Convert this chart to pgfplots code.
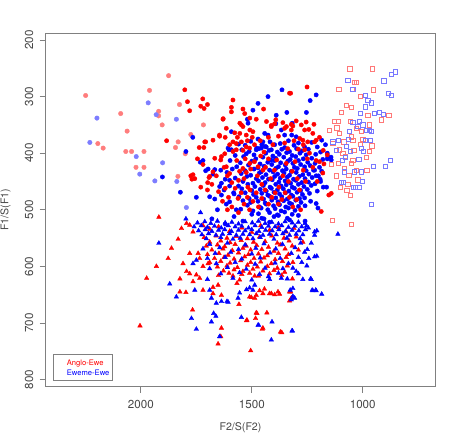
\documentclass[border=0pt]{standalone}
\usepackage{fontspec}
\setmainfont{TeX Gyre Heros}
\usepackage{pgfplots}
\pgfplotsset{compat=1.18}
\definecolor{framegray}{RGB}{128,128,128}
\definecolor{txtgray}{RGB}{70,70,70}
\definecolor{rred}{RGB}{255,0,0}
\definecolor{rblue}{RGB}{0,0,255}
\definecolor{lred}{RGB}{255,125,125}
\definecolor{lblue}{RGB}{125,125,255}
\definecolor{sqred}{RGB}{255,120,120}
\definecolor{sqblue}{RGB}{120,120,255}
\begin{document}
\begin{tikzpicture}[x=1pt,y=1pt]
\path[use as bounding box] (0,0) rectangle (465,439);
\begin{axis}[
  at={(45.7pt,52.3pt)}, anchor=south west,
  width=389.6pt, height=353.7pt, scale only axis,
  x dir=reverse, y dir=reverse,
  xmin=673, xmax=2429, ymin=187.6, ymax=812.7,
  axis line style={framegray, line width=1pt},
  xtick={1000,1500,2000}, ytick={200,300,400,500,600,700,800},
  tick align=outside, xtick pos=left, ytick pos=left,
  major tick length=6pt,
  tick style={framegray, line width=0.8pt},
  ticklabel style={font=\fontsize{11.6}{13}\selectfont, text=txtgray, inner sep=0pt},
  /pgf/number format/assume math mode=true,
  /pgf/number format/1000 sep={},
  xticklabel shift=7.3pt,
  yticklabel shift=6.2pt,
  yticklabel style={rotate=90, anchor=south},
  bc/.style={only marks, color=rblue, mark=*, mark size=2.15pt},
  rc/.style={only marks, color=rred, mark=*, mark size=2.15pt},
  lbc/.style={only marks, color=lblue, mark=*, mark size=2.25pt},
  lrc/.style={only marks, color=lred, mark=*, mark size=2.25pt},
  bt/.style={only marks, color=rblue, mark=triangle*, mark size=2.6pt},
  rt/.style={only marks, color=rred, mark=triangle*, mark size=2.6pt},
  bs/.style={only marks, color=sqblue, mark=square, mark size=2.1pt, mark options={line width=0.6pt}},
  rs/.style={only marks, color=sqred, mark=square, mark size=2.1pt, mark options={line width=0.6pt}},
]
% light circles (upper left)
\addplot[lrc] coordinates {(2249,298)(1875,263)(1961,289)(2091,330)(1920,326)(1920,334)(1904,350)(1826,314)(2062,361)(2194,383)(2170,391)(2068,397)(2042,397)(1986,397)(2022,425)(1986,425)(1844,390)(1832,380)(1775,367)(1800,401)(1833,441)(1718,350)};
\addplot[lbc] coordinates {(2198,338)(2230,381)(1967,311)(1931,332)(1840,340)(2021,406)(2005,437)(1902,417)(1937,449)(1838,450)(1795,496)};
% red triangles
\addplot[rt] coordinates {(1919,513)(1930,600)(1877,586)(1862,568)(1832,552)(1817,533)(1794,524)(1780,527)(1765,539)(1810,595)(1794,609)(1780,613)(1750,615)(1824,622)(1765,627)(1735,621)(1720,600)(1697,595)(1742,577)(1735,586)(1780,577)(1797,646)(1720,642)(1637,651)(1675,637)(1652,633)(1767,677)(1637,709)(1640,724)(1652,737)(1558,667)(1480,682)(1483,692)(1522,695)(1505,749)(1432,682)(1450,709)(1371,716)(1510,654)(1487,656)(1480,651)(1420,648)(1397,650)(1382,645)(1330,645)(1443,640)(1465,643)(1555,624)(1567,630)(1603,612)(1585,617)(1510,612)(1487,617)(2004,705)(1974,621)(1824,645)(1317,622)(1325,645)(1322,656)(1330,661)(1365,717)(1477,683)(1453,711)(1524,696)(1375,649)(1412,648)(1502,655)(1450,648)(1675,648)
(1715,549)(1660,546)(1612,550)(1570,547)(1520,551)(1465,548)(1410,546)(1355,550)(1300,548)
(1690,557)(1640,555)(1598,558)(1548,554)(1492,557)(1440,556)(1385,559)(1332,555)(1270,557)
(1705,564)(1655,562)(1622,565)(1575,561)(1525,564)(1478,563)(1425,566)(1372,562)(1318,564)
(1680,571)(1630,569)(1588,572)(1540,568)(1505,571)(1455,570)(1400,573)(1350,569)(1290,571)
(1700,579)(1648,577)(1607,580)(1560,576)(1515,579)(1470,578)(1430,581)(1380,577)(1335,579)
(1668,586)(1625,584)(1580,587)(1532,583)(1490,586)(1445,585)(1395,588)(1345,584)
(1690,593)(1640,591)(1598,594)(1550,590)(1505,593)(1460,592)(1412,595)(1362,591)(1315,593)
(1655,601)(1612,599)(1565,602)(1520,598)(1475,601)(1430,600)(1385,603)(1340,599)
(1628,608)(1580,606)(1540,609)(1495,605)(1450,608)(1400,607)(1352,610)
(1650,616)(1545,614)(1470,617)(1420,613)(1365,616)
(1720,528)(1690,534)(1650,530)(1600,538)(1545,532)(1500,540)(1460,528)(1420,536)(1380,531)(1345,539)(1310,533)};
% blue triangles
\addplot[bt] coordinates {(1731,505)(1797,516)(1919,559)(1870,631)(1840,654)(1757,642)(1765,595)(1750,589)(1690,642)(1682,656)(1660,665)(1637,662)(1612,662)(1772,692)(1750,711)(1672,683)(1682,698)(1547,690)(1472,704)(1412,730)(1317,714)(1555,647)(1562,656)(1510,638)(1487,633)(1232,623)(1225,643)(1210,643)(1307,656)(1322,659)(1327,642)(1315,639)(1232,559)(1217,545)(1254,529)(1315,603)(1300,609)(1112,543)(1207,537)(1217,539)(1207,582)(1217,583)(1252,599)(1243,586)(1235,622)(1228,642)(1212,642)(1185,649)(1315,653)(1319,714)(1409,698)(1469,704)(1524,641)(1495,642)(1367,621)(1420,623)(1425,618)(1662,688)(1645,724)(1607,663)
(1745,523)(1712,521)(1685,524)(1655,520)(1620,523)(1590,522)(1560,525)(1530,521)(1498,523)(1470,520)(1440,524)(1410,522)(1380,525)(1350,521)(1318,523)(1290,522)(1260,524)
(1760,530)(1728,528)(1700,531)(1668,529)(1638,532)(1606,528)(1575,530)(1545,529)(1515,532)(1485,528)(1455,531)(1425,529)(1395,530)(1365,528)(1335,531)(1305,529)(1275,530)(1245,532)
(1740,537)(1710,535)(1680,538)(1650,536)(1622,535)(1592,538)(1560,536)(1530,537)(1500,535)(1468,538)(1438,536)(1408,537)(1378,535)(1348,538)(1318,536)(1288,537)(1258,535)
(1725,544)(1695,542)(1662,545)(1632,543)(1600,542)(1570,545)(1540,543)(1510,544)(1480,542)(1450,545)(1420,543)(1390,544)(1360,542)(1330,545)(1300,543)(1270,544)
(1705,551)(1640,549)(1585,552)(1552,550)(1495,551)(1462,549)(1400,552)(1342,550)(1282,551)
(1690,561)(1610,559)(1530,562)(1445,560)(1362,561)(1280,559)
(1720,569)(1645,567)(1560,570)(1482,568)(1392,569)(1305,567)(1250,570)
(1665,577)(1595,575)(1500,578)(1418,576)(1322,577)(1262,575)
(1700,586)(1620,584)(1545,587)(1462,585)(1372,586)(1290,584)
(1660,595)(1575,593)(1485,596)(1395,594)(1335,595)(1275,593)
(1690,604)(1610,602)(1525,605)(1440,603)(1360,604)
(1640,613)(1555,611)(1465,614)(1380,612)(1290,613)
(1700,623)(1585,621)(1500,624)(1340,622)(1270,623)};
% blue circles
\addplot[bc] coordinates {(1364,288)(1427,300)(1472,312)(1495,324)(1210,297)(1237,307)(1342,328)(1254,328)(1390,333)(1520,340)(1392,348)(1367,359)(1352,368)(1320,368)(1300,371)(1442,365)(1427,368)(1472,375)(1450,380)(1592,362)(1517,347)(1607,391)(1592,394)(1720,413)(1697,428)(1667,429)(1675,437)(1480,394)(1457,391)(1435,389)(1412,394)(1766,372)(1797,397)(1732,416)(1708,431)(1822,469)(1750,478)(1645,459)(1637,453)(1690,477)(1667,481)(1637,474)(1603,394)(1318,347)(1903,442)(1160,410)(1142,412)(1157,406)(1217,430)(1200,440)(1190,450)(1163,460)(1210,489)(1202,497)
(1640,430)(1620,446)(1600,458)(1582,470)(1615,490)(1570,500)(1655,500)
(1580,512)(1540,520)(1500,508)(1455,515)(1420,522)(1380,510)(1330,518)(1290,510)(1260,520)(1620,525)(1680,516)
(1290,382)(1335,378)(1372,383)(1418,380)(1455,385)(1505,379)(1560,384)(1230,381)(1185,377)
(1262,389)(1310,386)(1352,390)(1397,385)(1440,388)(1478,391)(1530,386)(1205,389)(1168,385)
(1275,396)(1298,392)(1330,397)(1365,393)(1385,398)(1422,395)(1468,392)(1512,397)(1545,394)(1245,393)(1190,398)
(1255,403)(1283,400)(1318,404)(1343,399)(1376,402)(1405,405)(1437,400)(1490,403)(1525,401)(1575,404)(1212,402)(1160,400)
(1268,410)(1302,406)(1327,411)(1356,407)(1392,409)(1414,412)(1450,407)(1482,410)(1537,406)(1230,409)(1180,411)(1143,407)
(1248,416)(1290,413)(1315,418)(1338,414)(1370,417)(1398,413)(1428,416)(1463,419)(1500,414)(1552,417)(1598,413)(1215,418)
(1262,424)(1280,420)(1308,425)(1349,421)(1380,424)(1410,420)(1445,423)(1472,426)(1515,421)(1568,424)(1237,422)(1195,425)
(1255,431)(1295,427)(1322,432)(1345,428)(1362,431)(1392,427)(1420,430)(1458,433)(1490,428)(1530,431)(1588,428)(1222,430)(1185,432)
(1270,438)(1300,434)(1330,439)(1355,435)(1384,437)(1404,433)(1436,438)(1466,435)(1505,439)(1548,436)(1612,434)(1243,437)(1210,440)
(1260,445)(1286,441)(1312,446)(1340,442)(1372,444)(1397,441)(1425,446)(1452,443)(1480,445)(1522,441)(1575,444)(1228,443)(1192,446)
(1275,452)(1302,448)(1325,453)(1350,449)(1378,451)(1408,447)(1440,452)(1470,449)(1495,453)(1540,450)(1600,448)(1245,451)(1215,454)
(1265,459)(1290,455)(1318,460)(1345,456)(1368,458)(1392,455)(1418,460)(1448,457)(1486,459)(1518,455)(1560,458)(1232,457)(1178,460)
(1280,466)(1308,462)(1333,467)(1358,463)(1385,465)(1412,462)(1435,467)(1462,464)(1500,466)(1545,463)(1625,465)(1250,464)(1205,467)
(1272,473)(1296,469)(1322,474)(1348,470)(1375,472)(1400,469)(1428,474)(1455,471)(1492,473)(1530,470)(1580,472)(1240,471)
(1285,480)(1315,476)(1340,481)(1365,477)(1392,479)(1420,476)(1447,481)(1480,478)(1512,480)(1558,477)(1262,479)
(1278,487)(1302,483)(1330,488)(1356,484)(1382,486)(1410,483)(1440,488)(1472,485)(1505,487)(1540,484)(1600,486)(1235,485)
(1290,494)(1320,490)(1347,495)(1375,491)(1402,493)(1435,490)(1465,495)(1520,492)(1260,493)
(1305,501)(1335,497)(1368,502)(1395,498)(1428,500)(1458,497)(1495,502)(1550,499)
(1318,508)(1352,504)(1385,509)(1420,505)(1470,507)
(1340,515)(1400,512)(1445,516)};
% red circles
\addplot[rc] coordinates {(1802,288)(1790,309)(1780,325)(1721,304)(1730,317)(1715,321)(1700,314)(1884,378)(1737,390)(1716,390)(1708,380)(1646,368)(1629,339)(1775,440)(1770,446)(1699,452)(1251,283)(1330,294)(1585,306)(1447,322)(1592,319)(1592,327)(1540,322)(1532,330)(1630,340)(1554,347)(1547,350)(1540,353)(1509,338)(1480,340)(1434,344)(1412,351)(1360,346)(1344,353)(1322,349)(1300,343)(1277,350)(1255,345)(1352,356)(1322,359)(1615,356)(1577,364)(1554,365)(1525,368)(1509,359)(1495,362)(1645,370)(1712,380)(1675,377)(1585,380)(1570,383)(1547,380)(1525,389)(1510,391)(1667,409)(1622,401)(1585,397)(1570,394)(1284,374)(1270,377)(1248,380)(1210,377)(1262,394)(1240,400)(1615,424)(1600,436)(1675,433)(1690,441)(1540,427)(1525,434)(1509,418)(1472,424)(1450,430)(1325,294)(1217,380)(1160,403)(1210,413)(1175,419)(1142,471)(1153,474)(1187,503)
(1397,348)(1392,341)(1412,353)(1315,352)(1262,359)(1243,358)(1220,349)(1765,438)(1757,445)(1693,443)(1637,406)(1720,420)(1745,410)(1680,455)(1700,465)(1660,440)(1730,460)
(1620,372)(1600,385)(1565,372)(1540,395)(1520,378)(1498,372)(1488,385)(1462,378)(1445,398)(1425,372)(1405,385)(1380,370)(1352,382)(1338,392)(1310,378)(1290,393)(1268,385)(1225,365)(1195,372)(1178,395)
(1640,412)(1625,425)(1610,440)(1590,452)(1568,413)(1555,432)(1560,448)(1530,410)(1535,445)(1518,460)(1505,428)(1488,415)(1475,440)(1460,405)(1455,455)(1438,425)(1425,410)(1415,445)(1398,430)(1388,412)(1378,460)(1360,440)(1345,418)(1335,450)(1318,432)(1305,415)(1295,445)(1285,465)(1268,430)(1258,450)(1250,410)(1225,425)(1205,450)(1195,415)(1180,435)
(1650,468)(1632,485)(1620,462)(1605,478)(1590,495)(1575,462)(1562,480)(1548,470)(1535,490)(1520,478)(1508,465)(1495,485)(1480,470)(1470,495)(1455,480)(1440,465)(1425,490)(1410,478)(1395,470)(1380,490)(1365,482)(1350,470)(1330,478)(1315,495)(1298,482)(1280,500)(1560,505)(1610,500)(1510,500)};
% open squares
\addplot[rs] coordinates {(1058,251)(957,251)(1037,275)(1029,275)(1108,287)(1047,287)(952,288)(1010,300)(1074,315)(1052,319)(1097,328)(1127,343)(1112,343)(1055,344)(977,333)(883,333)(917,341)(1029,356)(1007,362)(970,350)(1105,365)(1052,371)(1045,377)(959,387)(970,397)(1135,383)(1105,394)(1078,405)(985,407)(1045,412)(982,430)(1029,430)(1063,439)(1022,447)(1072,465)(1055,475)(1137,518)(1051,525)(1117,355)(1000,375)(1090,400)(1052,418)(1082,427)(1112,418)(1067,455)(1150,360)(1140,420)(1120,440)(1100,460)(1085,380)(1040,395)(1010,385)};
\addplot[bs] coordinates {(1067,271)(1045,287)(872,260)(853,256)(905,272)(886,294)(872,297)(988,297)(977,307)(962,311)(988,318)(1010,330)(947,330)(925,328)(907,331)(1015,343)(985,360)(970,359)(962,362)(1022,353)(1060,362)(988,377)(967,377)(1007,391)(997,396)(1074,388)(1056,397)(1135,380)(1112,377)(1093,412)(1078,407)(1018,411)(951,423)(898,423)(876,412)(1097,452)(1086,452)(1042,460)(1015,460)(1002,450)(962,490)(1037,433)(1007,433)(1082,433)(1032,460)(1065,375)(1120,395)(1000,350)(1045,345)};
\end{axis}
\node[font=\fontsize{10.6}{12}\selectfont, text=txtgray] at (240.5,11.3) {F2/S(F2)};
\node[rotate=90, font=\fontsize{10.6}{12}\selectfont, text=txtgray] at (5.5,229) {F1/S(F1)};
\draw[framegray, line width=0.8pt] (53,59) rectangle (112,85);
\node[anchor=west, inner sep=0pt, font=\fontsize{7.6}{9}\selectfont, text=rred] at (66.7,75.7) {Anglo-Ewe};
\node[anchor=west, inner sep=0pt, font=\fontsize{7.6}{9}\selectfont, text=rblue] at (66.7,66.7) {Eweme-Ewe};
\end{tikzpicture}
\end{document}
